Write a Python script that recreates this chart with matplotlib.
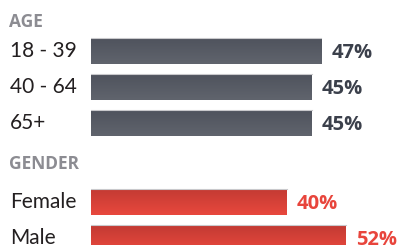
import numpy as np
import matplotlib.pyplot as plt
from matplotlib.colors import LinearSegmentedColormap

age_labels = ['18 - 39', '40 - 64', '65+']
age_values = [47, 45, 45]
gender_labels = ['Female', 'Male']
gender_values = [40, 52]

plt.rcParams['font.family'] = ['Lato', 'DejaVu Sans']
BOLD = ['Open Sans', 'DejaVu Sans']

W, H = 401, 245
fig = plt.figure(figsize=(W / 100, H / 100), dpi=100)
x0 = 91
ppu = 4.9  # pixels per percent
ax = fig.add_axes([x0 / W, 0, (W - x0) / W, 1])
ax.set_xlim(0, (W - x0) / ppu)
ax.set_ylim(H, 0)
ax.axis('off')

grey = LinearSegmentedColormap.from_list('g', ['#4f535d', '#60646d'])
red = LinearSegmentedColormap.from_list('r', ['#c23a33', '#e8483d'])

groups = [
    ('AGE', age_labels, age_values, grey, '#3b404b', 22, 51),
    ('GENDER', gender_labels, gender_values, red, '#e8453c', 164, 201.5),
]

for title, labels, values, cmap, tcol, ty, y0 in groups:
    ys = [y0 + 36 * i for i in range(len(values))]
    ax.text(-x0 / ppu + 9 / ppu, ty, title, fontsize=12.5, fontweight='bold',
            family=BOLD, color='#8c8c92', va='center', ha='left', clip_on=False)
    bars = ax.barh(ys, values, height=26, color='none', edgecolor='none')
    for b, lab, v in zip(bars, labels, values):
        bx, by = b.get_x(), b.get_y()
        bw, bh = b.get_width(), b.get_height()
        grad = np.linspace(0, 1, 64).reshape(-1, 1)
        im = ax.imshow(grad, cmap=cmap, aspect='auto',
                       extent=[bx, bx + bw, by + bh, by], zorder=1)
        im.set_clip_path(b)
        ax.plot([bx, bx + bw], [by, by], color='#c9c9cc', lw=0.8, zorder=2)
        cy = by + bh / 2
        ax.text(-x0 / ppu + 10 / ppu, cy, lab, fontsize=15, color='#231f20',
                va='center', ha='left', clip_on=False)
        ax.text(bx + bw + 10 / ppu, cy + 2, f'{v}%', fontsize=14.5,
                fontweight='bold', family=BOLD, color=tcol, va='center',
                ha='left', clip_on=False)

ax.set_xlim(0, (W - x0) / ppu)
ax.set_ylim(H, 0)
fig.savefig('out.png', dpi=100)
